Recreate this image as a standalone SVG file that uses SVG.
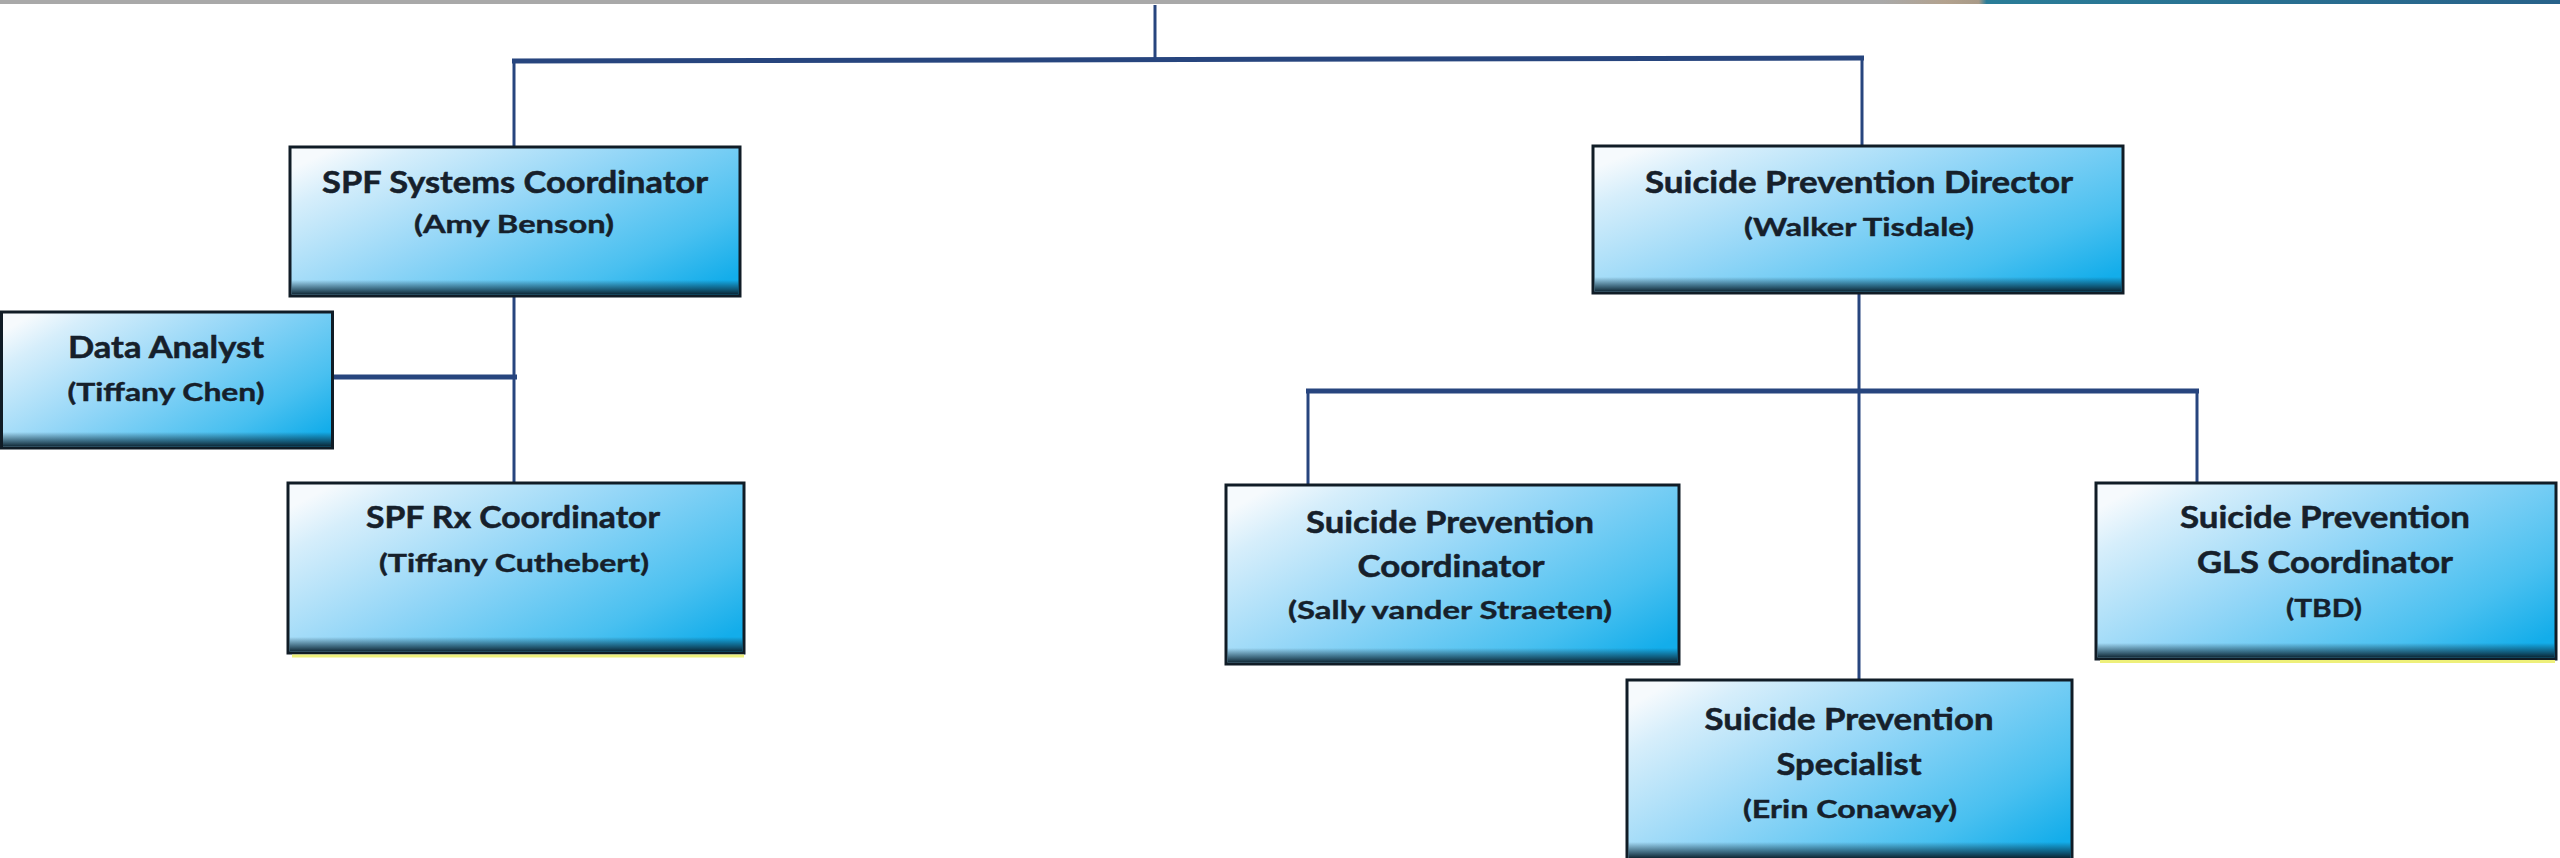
<svg xmlns="http://www.w3.org/2000/svg" width="2560" height="858" viewBox="0 0 2560 858">
<defs>
  <linearGradient id="boxFill" x1="0" y1="0.15" x2="1" y2="0.85">
    <stop offset="0" stop-color="#f6fafd"/>
    <stop offset="0.12" stop-color="#d6eefb"/>
    <stop offset="0.45" stop-color="#93d6f7"/>
    <stop offset="0.8" stop-color="#49c0f0"/>
    <stop offset="1" stop-color="#13adea"/>
  </linearGradient>
  <linearGradient id="shade" x1="0" y1="0" x2="0" y2="1">
    <stop offset="0" stop-color="#0d2a3a" stop-opacity="0"/>
    <stop offset="0.6" stop-color="#0d2a3a" stop-opacity="0.6"/>
    <stop offset="1" stop-color="#0a1e2a" stop-opacity="0.95"/>
  </linearGradient>
  <linearGradient id="topbar" x1="0" y1="0" x2="1" y2="0">
    <stop offset="0" stop-color="#a9a9a9"/>
    <stop offset="0.735" stop-color="#a9a9a9"/>
    <stop offset="0.76" stop-color="#b3a28e"/>
    <stop offset="0.773" stop-color="#a89a88"/>
    <stop offset="0.776" stop-color="#2a7d98"/>
    <stop offset="1" stop-color="#28628a"/>
  </linearGradient>
</defs>
<style>
  .box { fill: url(#boxFill); stroke: #101c26; stroke-width: 3; }
  .shade { fill: url(#shade); }
  .t { font-family: Lato, "Liberation Sans", sans-serif; font-weight: bold; font-size: 30px; fill: #16202b; stroke: #16202b; stroke-width: 0.5; text-anchor: middle; }
  .n { font-family: Lato, "Liberation Sans", sans-serif; font-weight: bold; font-size: 25px; fill: #16202b; stroke: #16202b; stroke-width: 0.4; text-anchor: middle; }
  .conn { fill: none; stroke: #27457e; stroke-linecap: butt; }
  .v { stroke-width: 3; }
  .h { stroke-width: 5; }
  .yl { fill: #eef07a; }
</style>
<rect x="0" y="0" width="2560" height="4" fill="url(#topbar)"/>

<g id="connectors">
  <path class="conn v" d="M1155 5 V62"/>
  <path class="conn h" d="M512 61 L1864 58"/>
  <path class="conn v" d="M514 60 V148"/>
  <path class="conn v" d="M1862 58 V147"/>
  <path class="conn v" d="M514 296 V484"/>
  <path class="conn h" d="M334 377 H517"/>
  <path class="conn v" d="M1859 293 V681"/>
  <path class="conn h" d="M1306 391 H2199"/>
  <path class="conn v" d="M1308 390 V486"/>
  <path class="conn v" d="M2197 390 V484"/>
</g>

<g id="node-spf-systems">
  <rect class="box" x="290" y="147" width="450" height="149"/>
  <rect class="shade" x="291.5" y="280" width="447" height="14.5"/>
  <text class="t" x="515" y="193" textLength="386" lengthAdjust="spacingAndGlyphs">SPF Systems Coordinator</text>
  <text class="n" x="514" y="233" textLength="200" lengthAdjust="spacingAndGlyphs">(Amy Benson)</text>
</g>

<g id="node-data-analyst">
  <rect class="box" x="1.5" y="312" width="331" height="136"/>
  <rect class="shade" x="3" y="432" width="328" height="14.5"/>
  <text class="t" x="166" y="358" textLength="196" lengthAdjust="spacingAndGlyphs">Data Analyst</text>
  <text class="n" x="166" y="401" textLength="197" lengthAdjust="spacingAndGlyphs">(Tiffany Chen)</text>
</g>

<g id="node-spf-rx">
  <rect class="box" x="288" y="483" width="456" height="170"/>
  <rect class="shade" x="289.5" y="637" width="453" height="14.5"/>
  <rect class="yl" x="292" y="654.5" width="452" height="3"/>
  <text class="t" x="513" y="528" textLength="294" lengthAdjust="spacingAndGlyphs">SPF Rx Coordinator</text>
  <text class="n" x="514" y="572" textLength="270" lengthAdjust="spacingAndGlyphs">(Tiffany Cuthebert)</text>
</g>

<g id="node-director">
  <rect class="box" x="1593" y="146" width="530" height="147"/>
  <rect class="shade" x="1594.5" y="277" width="527" height="14.5"/>
  <text class="t" x="1859" y="193" textLength="428" lengthAdjust="spacingAndGlyphs">Suicide Prevention Director</text>
  <text class="n" x="1859" y="236" textLength="230" lengthAdjust="spacingAndGlyphs">(Walker Tisdale)</text>
</g>

<g id="node-sp-coordinator">
  <rect class="box" x="1226" y="485" width="453" height="179"/>
  <rect class="shade" x="1227.5" y="648" width="450" height="14.5"/>
  <text class="t" x="1450" y="533" textLength="288" lengthAdjust="spacingAndGlyphs">Suicide Prevention</text>
  <text class="t" x="1451" y="577" textLength="187" lengthAdjust="spacingAndGlyphs">Coordinator</text>
  <text class="n" x="1450" y="619" textLength="324" lengthAdjust="spacingAndGlyphs">(Sally vander Straeten)</text>
</g>

<g id="node-gls-coordinator">
  <rect class="box" x="2096" y="483" width="460" height="176"/>
  <rect class="shade" x="2097.5" y="643" width="457" height="14.5"/>
  <rect class="yl" x="2100" y="660" width="455" height="3"/>
  <text class="t" x="2325" y="528" textLength="290" lengthAdjust="spacingAndGlyphs">Suicide Prevention</text>
  <text class="t" x="2325" y="573" textLength="256" lengthAdjust="spacingAndGlyphs">GLS Coordinator</text>
  <text class="n" x="2324" y="617" textLength="76" lengthAdjust="spacingAndGlyphs">(TBD)</text>
</g>

<g id="node-specialist">
  <rect class="box" x="1627" y="680" width="445" height="182"/>
  <rect class="shade" x="1628.5" y="842" width="442" height="16"/>
  <text class="t" x="1849" y="730" textLength="289" lengthAdjust="spacingAndGlyphs">Suicide Prevention</text>
  <text class="t" x="1849" y="775" textLength="145" lengthAdjust="spacingAndGlyphs">Specialist</text>
  <text class="n" x="1850" y="818" textLength="214" lengthAdjust="spacingAndGlyphs">(Erin Conaway)</text>
</g>
</svg>
